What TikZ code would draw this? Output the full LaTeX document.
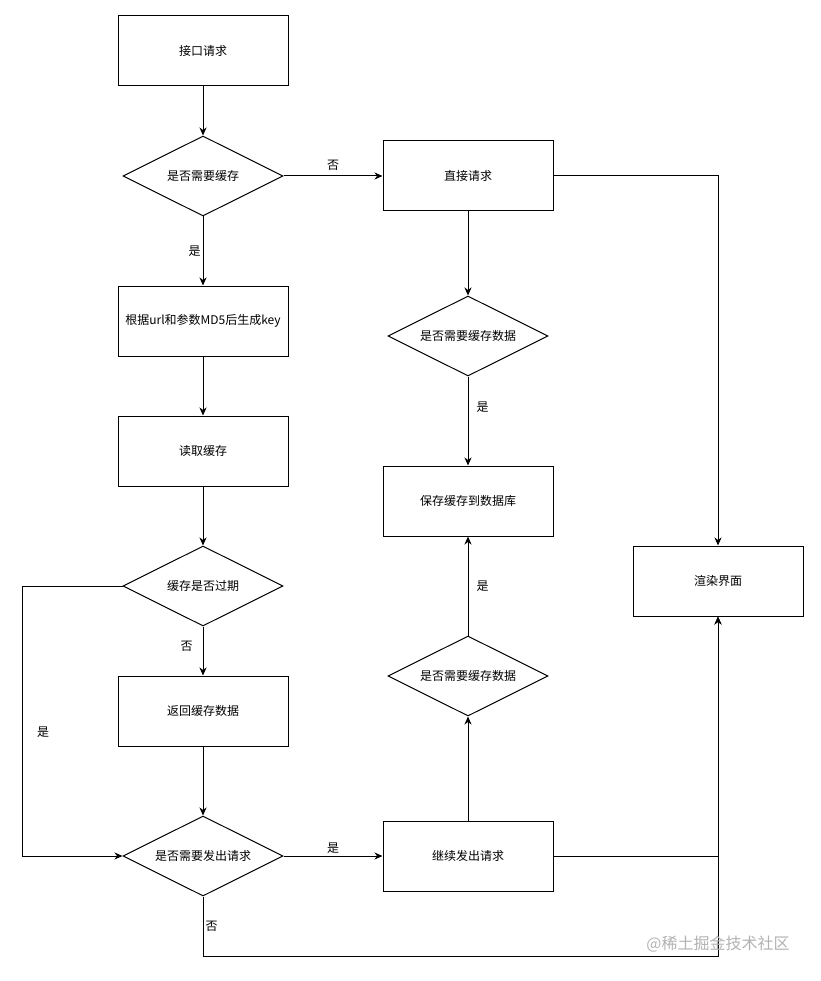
\documentclass[tikz,border=0pt]{standalone}
\usepackage{fontspec}
\setmainfont{Noto Sans CJK SC}
\usepackage{tikz}
\usetikzlibrary{arrows.meta,shapes.geometric,positioning}
\usepackage{xcolor}
\definecolor{markcol}{RGB}{178,178,178}
\tikzset{
  % process box
  procbox/.style={rectangle, draw=black, line width=1pt, minimum width=170pt, minimum height=70pt,
               font=\fontsize{12}{14}\selectfont, inner sep=2pt},
  % decision diamond
  decision/.style={diamond, aspect=2, draw=black, line width=1pt, minimum width=160pt, minimum height=80pt,
               font=\fontsize{12}{14}\selectfont, inner sep=1pt},
  % flow arrow
  flowarrow/.style={-{Stealth[length=8pt,width=7pt,inset=2.5pt]}, line width=1pt},
  % yes / no label
  edgelabel/.style={font=\fontsize{12}{14}\selectfont, inner sep=2pt},
}

\begin{document}
\begin{tikzpicture}[x=1pt,y=-1pt]
  \useasboundingbox (0,0) rectangle (820,981);

  % left column
  \node[procbox] (req) at (203,51) {接口请求};
  \node[decision] (needc) at (203,176) {是否需要缓存};
  \node[procbox] (genkey) at (203,321) {根据url和参数MD5后生成key};
  \node[procbox] (readc) at (203,451) {读取缓存};
  \node[decision] (expired) at (203,586) {缓存是否过期};
  \node[procbox] (retc) at (203,711) {返回缓存数据};
  \node[decision] (needreq) at (203,856) {是否需要发出请求};

  % middle column
  \node[procbox] (direct) at (468,176) {直接请求};
  \node[decision] (needsave1) at (468,336) {是否需要缓存数据};
  \node[procbox] (save) at (468,501) {保存缓存到数据库};
  \node[decision] (needsave2) at (468,676) {是否需要缓存数据};
  \node[procbox] (cont) at (468,856) {继续发出请求};

  % right column
  \node[procbox] (render) at (718,581) {渲染界面};

  % left column edges
  \draw[flowarrow] (req) -- (needc);
  \draw[flowarrow] (needc) -- node[edgelabel,left]{是} (genkey);
  \draw[flowarrow] (genkey) -- (readc);
  \draw[flowarrow] (readc) -- (expired);
  \draw[flowarrow] (expired) -- node[edgelabel,left=8pt,pos=0.4]{否} (retc);
  \draw[flowarrow] (expired.west) -- ++(-100,0) |- node[edgelabel,pos=0.27,right=12pt]{是} (needreq.west);
  \draw[flowarrow] (retc) -- (needreq);

  % middle column edges
  \draw[flowarrow] (needc) -- node[edgelabel,above=3pt]{否} (direct);
  \draw[flowarrow] (direct) -- (needsave1);
  \draw[flowarrow] (needsave1) -- node[edgelabel,right=6pt,pos=0.35]{是} (save);
  \draw[flowarrow] (needreq) -- node[edgelabel,above]{是} (cont);
  \draw[flowarrow] (cont) -- (needsave2);
  \draw[flowarrow] (needsave2) -- node[edgelabel,right=6pt]{是} (save);

  % into render
  \draw[flowarrow] (direct.east) -| (render.north);
  \draw[flowarrow] (cont.east) -| (render.south);
  \draw[flowarrow] (needreq.south) -- node[edgelabel,right]{否} ++(0,60) -| (render.south);

  \node[font=\fontsize{16}{18}\selectfont, text=markcol] (mark) at (718,944) {@稀土掘金技术社区};
\end{tikzpicture}
\end{document}
